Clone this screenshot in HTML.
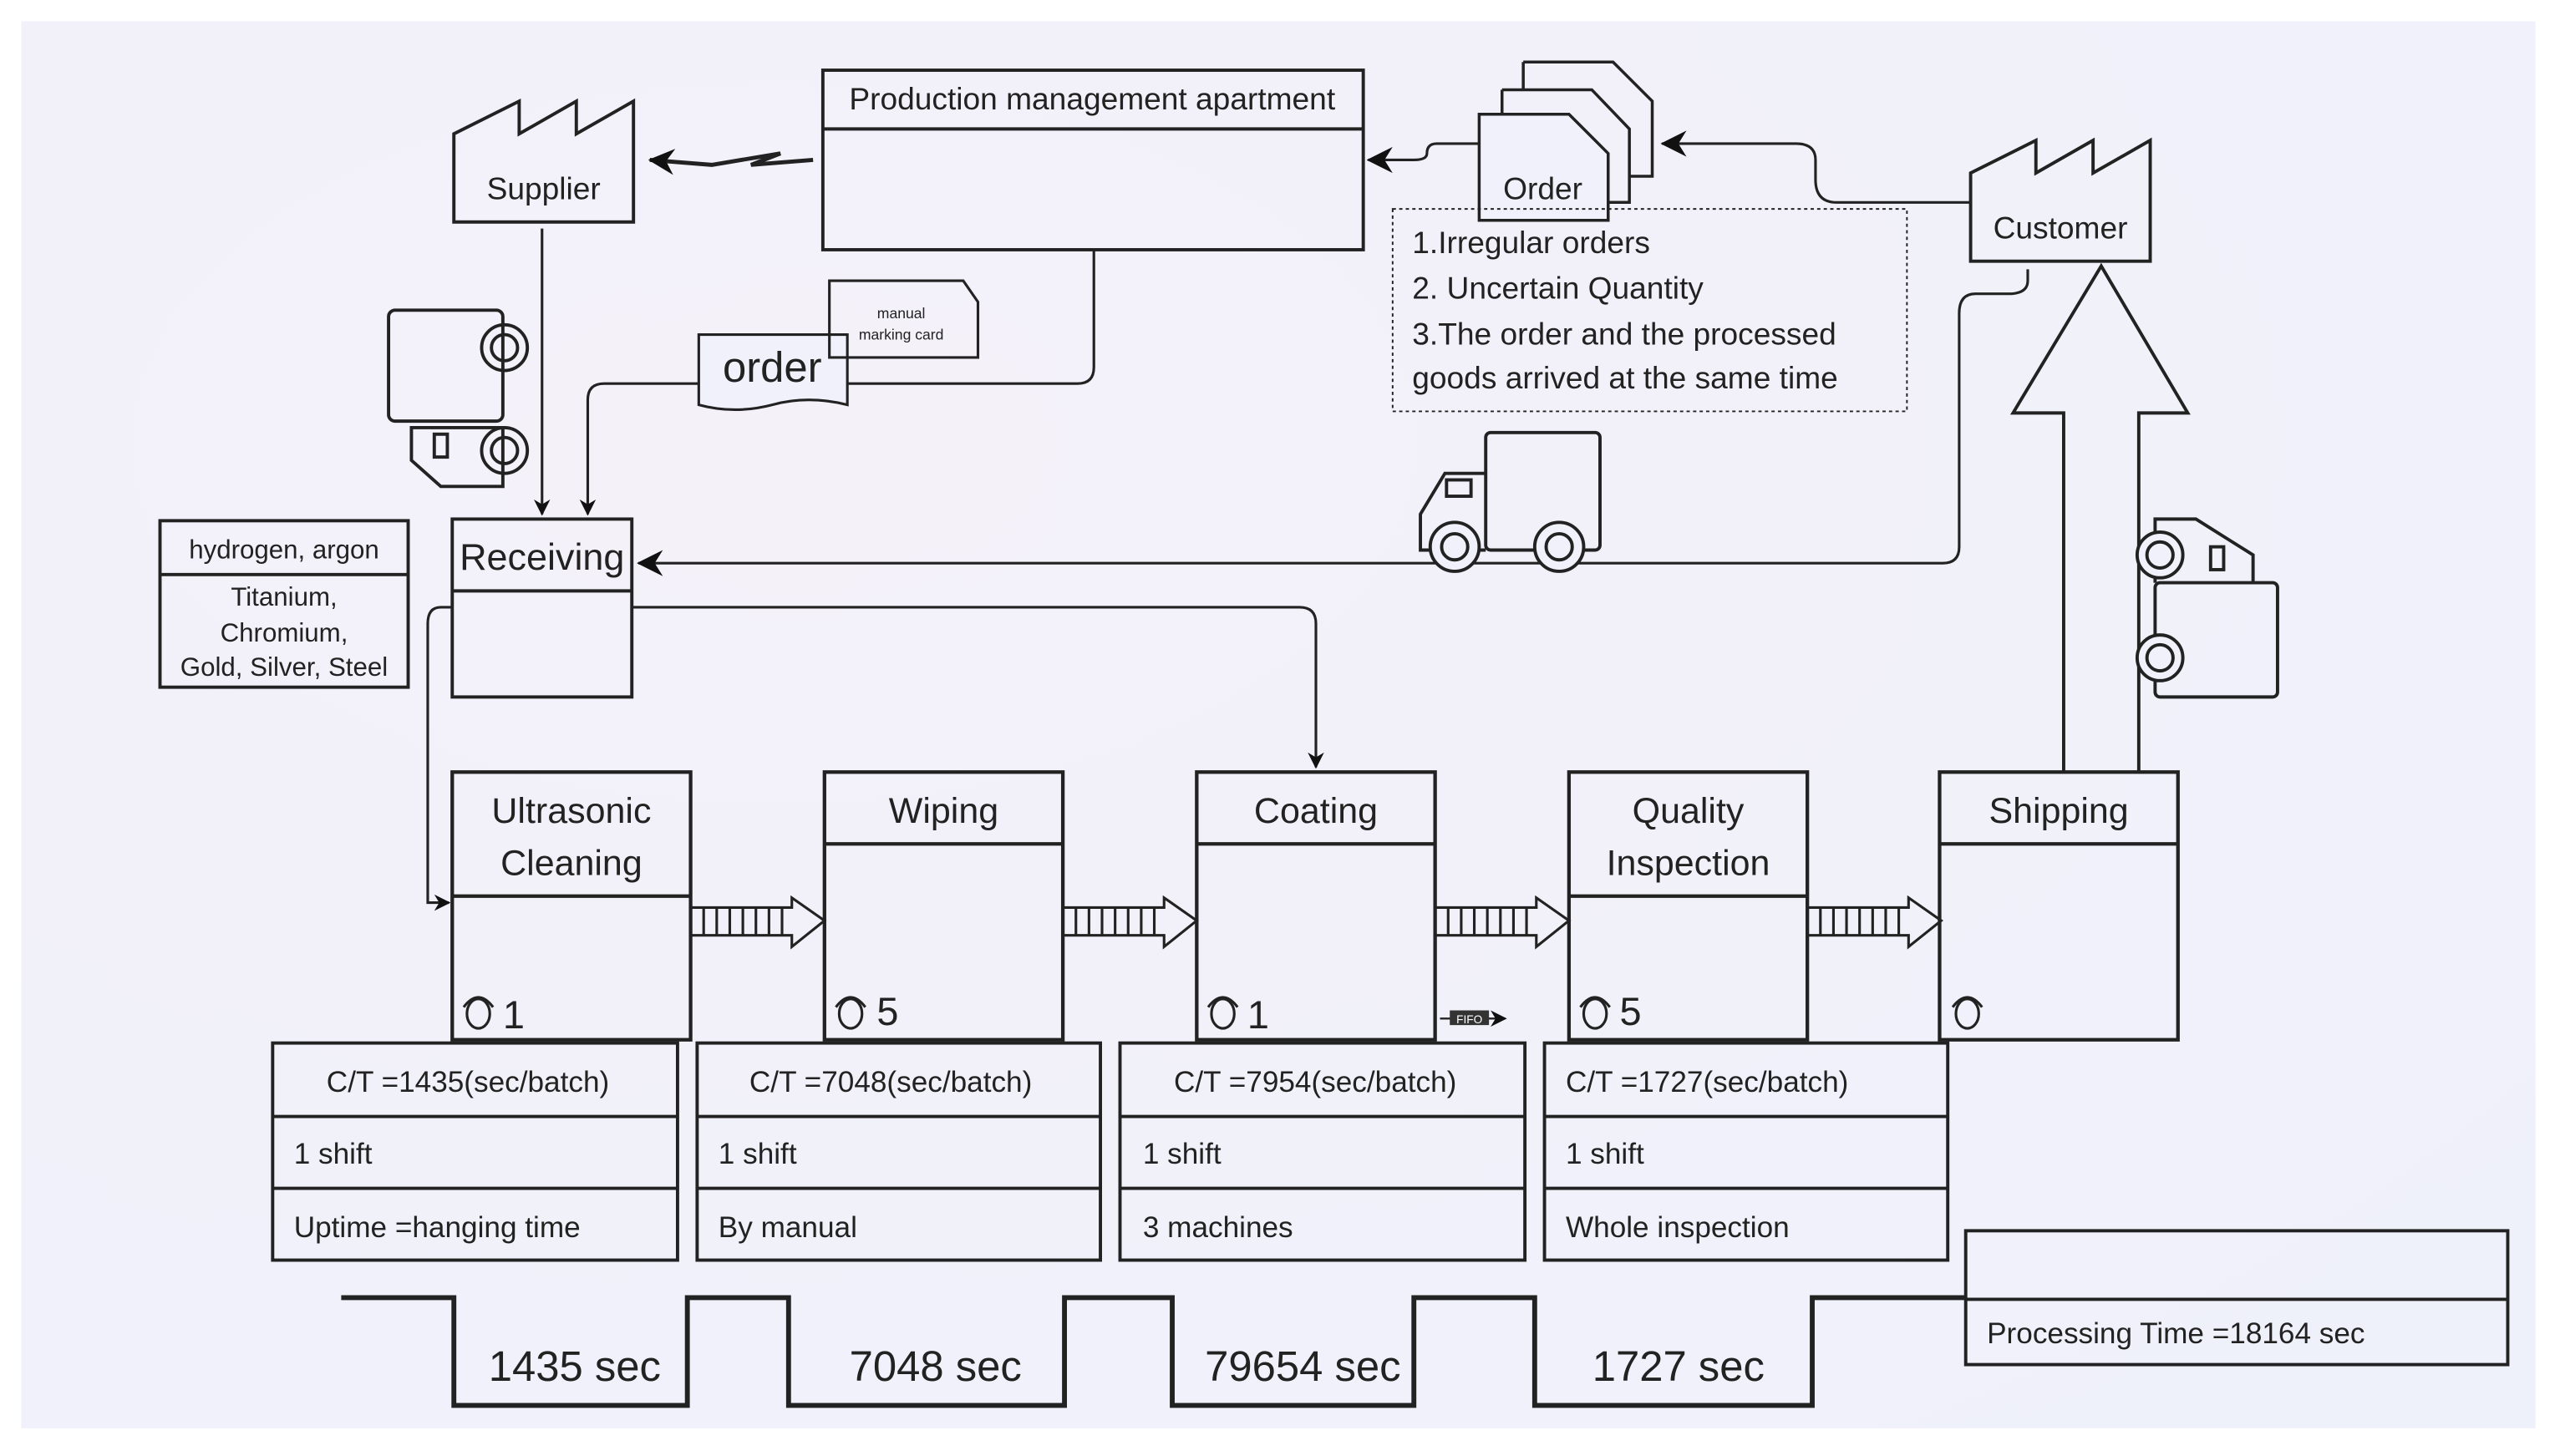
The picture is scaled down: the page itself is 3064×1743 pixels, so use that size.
<!DOCTYPE html>
<html><head><meta charset="utf-8"><style>
html,body{margin:0;padding:0;background:#fff;}
svg{display:block;}
text{font-family:"Liberation Sans",sans-serif;fill:#222;}
</style></head><body>
<svg width="3064" height="1743" viewBox="0 0 1568 892" preserveAspectRatio="none" xmlns="http://www.w3.org/2000/svg">
<defs>
<marker id="ah" markerWidth="10" markerHeight="10" refX="9" refY="5" orient="auto" markerUnits="userSpaceOnUse"><path d="M0,0 L10,5 L0,10 L3,5 Z" fill="#111"/></marker>
<marker id="ahb" markerWidth="16" markerHeight="16" refX="15" refY="8" orient="auto" markerUnits="userSpaceOnUse"><path d="M0,0 L16,8 L0,16 L5,8 Z" fill="#111"/></marker>
<radialGradient id="bg" cx="0.3" cy="0.3" r="0.9"><stop offset="0" stop-color="#f4f1f9"/><stop offset="1" stop-color="#eff1fa"/></radialGradient>
</defs>
<rect x="0" y="0" width="1568" height="892" fill="#fff"/>
<rect x="13" y="13" width="1540" height="862" fill="url(#bg)"/>
<g stroke="#222" stroke-width="2" fill="none">
<rect x="504" y="43" width="331" height="110"/>
<line x1="504" y1="79" x2="835" y2="79"/>
<path d="M278,136 L278,82 L318,62 L318,82 L353,62 L353,82 L388,62 L388,136 Z"/>
<path d="M1207,160 L1207,106 L1247,86 L1247,106 L1282,86 L1282,106 L1317,86 L1317,160 Z"/>
<path d="M498,98 L460,101 L478,94 L436,101 L398,98" stroke-width="2.5" marker-end="url(#ahb)"/>
<path d="M670,153 L670,225 Q670,235 660,235 L370,235 Q360,235 360,245 L360,315" stroke-width="1.6" marker-end="url(#ah)"/>
<line x1="332" y1="140" x2="332" y2="315" stroke-width="1.6" marker-end="url(#ah)"/>
<rect x="277" y="318" width="110" height="109"/>
<line x1="277" y1="362" x2="387" y2="362"/>
<rect x="98" y="319" width="152" height="102"/>
<line x1="98" y1="352" x2="250" y2="352"/>
<path d="M428,205 L519,205 L519,248 Q495,242 473,248 Q450,254 428,248 Z" stroke-width="1.6" fill="#f0f1fa"/>
<path d="M508,172 L590,172 L599,185 L599,219 L508,219 Z" stroke-width="1.6"/>
<path d="M933,38 L988,38 L1012,62 L1012,108 L998,108" stroke-width="1.8"/>
<path d="M920,55 L975,55 L998,79 L998,124 L985,124" stroke-width="1.8"/>
<path d="M933,55 L933,38" stroke-width="1.8"/>
<path d="M920,70 L920,55" stroke-width="1.8"/>
<path d="M906,70 L961,70 L985,94 L985,135 L906,135 Z" stroke-width="1.8" fill="#f0f1fa"/>
<path d="M906,88 L880,88 Q874,88 874,94 Q874,98 866,98 L838,98" stroke-width="1.6" marker-end="url(#ahb)"/>
<path d="M1207,124 L1125,124 Q1112,124 1112,110 L1112,98 Q1112,88 1100,88 L1018,88" stroke-width="1.6" marker-end="url(#ahb)"/>
<rect x="853" y="128" width="315" height="124" stroke-width="1" stroke-dasharray="2,2"/>
<path d="M1242,165 L1242,172 Q1242,180 1230,180 L1210,180 Q1200,180 1200,192 L1200,335 Q1200,345 1190,345 L391,345" stroke-width="1.6" marker-end="url(#ahb)"/>
<path d="M387,372 L796,372 Q806,372 806,382 L806,470" stroke-width="1.6" marker-end="url(#ah)"/>
<path d="M277,372 L270,372 Q262,372 262,382 L262,553 L275,553" stroke-width="1.6" marker-end="url(#ah)"/>
<path d="M1264,473 L1264,253 L1233,253 L1287,163 L1340,253 L1310,253 L1310,473" stroke-width="2"/>
<g stroke-width="2">
<rect x="238" y="190" width="70" height="68" rx="4"/>
<circle cx="309" cy="213" r="14"/><circle cx="309" cy="213" r="8"/>
<path d="M252,262 L308,262 L308,298 L270,298 L252,282 Z"/>
<rect x="266" y="266" width="8" height="14"/>
<circle cx="309" cy="276" r="14"/><circle cx="309" cy="276" r="8"/>
<rect x="910" y="265" width="70" height="72" rx="3"/>
<path d="M910,290 L885,290 L870,315 L870,337 L910,337"/>
<rect x="886" y="294" width="15" height="10"/>
<circle cx="891" cy="335" r="15" fill="#f0f1fa"/><circle cx="891" cy="335" r="8"/>
<circle cx="955" cy="335" r="15" fill="#f0f1fa"/><circle cx="955" cy="335" r="8"/>
<rect x="1320" y="357" width="75" height="70" rx="3"/>
<path d="M1320,357 L1320,318 L1345,318 L1380,340 L1380,357"/>
<rect x="1354" y="335" width="8" height="14"/>
<circle cx="1323" cy="340" r="14" fill="#f0f1fa"/><circle cx="1323" cy="340" r="8"/>
<circle cx="1323" cy="403" r="14" fill="#f0f1fa"/><circle cx="1323" cy="403" r="8"/>
</g>
<g stroke-width="2.2">
<rect x="277" y="473" width="146" height="164"/><line x1="277" y1="549" x2="423" y2="549"/>
<rect x="505" y="473" width="146" height="164"/><line x1="505" y1="517" x2="651" y2="517"/>
<rect x="733" y="473" width="146" height="164"/><line x1="733" y1="517" x2="879" y2="517"/>
<rect x="961" y="473" width="146" height="164"/><line x1="961" y1="549" x2="1107" y2="549"/>
<rect x="1188" y="473" width="146" height="164"/><line x1="1188" y1="517" x2="1334" y2="517"/>
</g>
<g stroke-width="1.6">
<path d="M423,556 L485,556 L485,550 L505,564 L485,580 L485,573 L423,573 Z"/>
<path d="M431,556V573M439,556V573M447,556V573M455,556V573M463,556V573M471,556V573M479,556V573"/>
<g transform="translate(228,0)"><path d="M423,556 L485,556 L485,550 L505,564 L485,580 L485,573 L423,573 Z"/><path d="M431,556V573M439,556V573M447,556V573M455,556V573M463,556V573M471,556V573M479,556V573"/></g>
<g transform="translate(456,0)"><path d="M423,556 L485,556 L485,550 L505,564 L485,580 L485,573 L423,573 Z"/><path d="M431,556V573M439,556V573M447,556V573M455,556V573M463,556V573M471,556V573M479,556V573"/></g>
<g transform="translate(684,0)"><path d="M423,556 L485,556 L485,550 L505,564 L485,580 L485,573 L423,573 Z"/><path d="M431,556V573M439,556V573M447,556V573M455,556V573M463,556V573M471,556V573M479,556V573"/></g>
</g>
<g stroke-width="1.6">
<ellipse cx="293" cy="621" rx="7" ry="9"/><path d="M284,617 Q293,605 302,617"/>
<ellipse cx="521" cy="621" rx="7" ry="9"/><path d="M512,617 Q521,605 530,617"/>
<ellipse cx="749" cy="621" rx="7" ry="9"/><path d="M740,617 Q749,605 758,617"/>
<ellipse cx="977" cy="621" rx="7" ry="9"/><path d="M968,617 Q977,605 986,617"/>
<ellipse cx="1205" cy="621" rx="7" ry="9"/><path d="M1196,617 Q1205,605 1214,617"/>
</g>
<path d="M882,624 L922,624" stroke-width="1.2" marker-end="url(#ah)"/>
<g stroke-width="2">
<rect x="167" y="639" width="248" height="133"/><line x1="167" y1="684" x2="415" y2="684"/><line x1="167" y1="728" x2="415" y2="728"/>
<rect x="427" y="639" width="247" height="133"/><line x1="427" y1="684" x2="674" y2="684"/><line x1="427" y1="728" x2="674" y2="728"/>
<rect x="686" y="639" width="248" height="133"/><line x1="686" y1="684" x2="934" y2="684"/><line x1="686" y1="728" x2="934" y2="728"/>
<rect x="946" y="639" width="247" height="133"/><line x1="946" y1="684" x2="1193" y2="684"/><line x1="946" y1="728" x2="1193" y2="728"/>
<rect x="1204" y="754" width="332" height="82"/><line x1="1204" y1="796" x2="1536" y2="796"/>
</g>
<path d="M209,795 L278,795 L278,861 L421,861 L421,795 L483,795 L483,861 L652,861 L652,795 L718,795 L718,861 L866,861 L866,795 L940,795 L940,861 L1110,861 L1110,795 L1204,795" stroke-width="3"/>
</g>
<rect x="888" y="619" width="24" height="9" fill="#333"/>
<text x="900" y="627" font-size="7" text-anchor="middle" style="fill:#fff">FIFO</text>
<g font-size="19">
<text x="669" y="67" text-anchor="middle">Production management  apartment</text>
<text x="333" y="122" text-anchor="middle">Supplier</text>
<text x="1262" y="146" text-anchor="middle">Customer</text>
<text x="945" y="122" text-anchor="middle">Order</text>
<text x="865" y="155">1.Irregular orders</text>
<text x="865" y="183">2. Uncertain Quantity</text>
<text x="865" y="211">3.The order and the processed</text>
<text x="865" y="238">goods arrived at the same time</text>
</g>
<text x="473" y="234" font-size="26" text-anchor="middle">order</text>
<text x="552" y="195" font-size="9" text-anchor="middle">manual</text>
<text x="552" y="208" font-size="9" text-anchor="middle">marking card</text>
<text x="332" y="349" font-size="23" text-anchor="middle">Receiving</text>
<g font-size="16" text-anchor="middle">
<text x="174" y="342">hydrogen, argon</text>
<text x="174" y="371">Titanium,</text>
<text x="174" y="393">Chromium,</text>
<text x="174" y="414">Gold, Silver, Steel</text>
</g>
<g font-size="22" text-anchor="middle">
<text x="350" y="504">Ultrasonic</text><text x="350" y="536">Cleaning</text>
<text x="578" y="504">Wiping</text>
<text x="806" y="504">Coating</text>
<text x="1034" y="504">Quality</text><text x="1034" y="536">Inspection</text>
<text x="1261" y="504">Shipping</text>
</g>
<g font-size="24">
<text x="308" y="630">1</text><text x="537" y="628">5</text><text x="764" y="630">1</text><text x="992" y="628">5</text>
</g>
<g font-size="18">
<text x="200" y="669">C/T =1435(sec/batch)</text>
<text x="459" y="669">C/T =7048(sec/batch)</text>
<text x="719" y="669">C/T =7954(sec/batch)</text>
<text x="959" y="669">C/T =1727(sec/batch)</text>
<text x="180" y="713">1 shift</text><text x="440" y="713">1 shift</text><text x="700" y="713">1 shift</text><text x="959" y="713">1 shift</text>
<text x="180" y="758">Uptime =hanging time</text>
<text x="440" y="758">By manual</text>
<text x="700" y="758">3 machines</text>
<text x="959" y="758">Whole inspection</text>
<text x="1217" y="823">Processing Time =18164 sec</text>
</g>
<g font-size="26" text-anchor="middle">
<text x="352" y="846">1435 sec</text>
<text x="573" y="846">7048 sec</text>
<text x="798" y="846">79654 sec</text>
<text x="1028" y="846">1727 sec</text>
</g>
</svg>
</body></html>
